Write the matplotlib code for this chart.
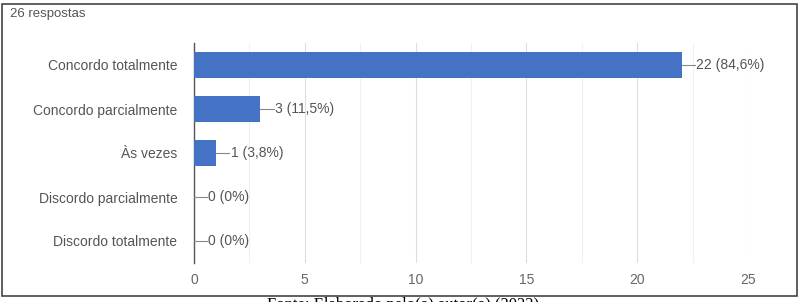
import matplotlib.pyplot as plt
from matplotlib.patches import Rectangle
from matplotlib.ticker import MultipleLocator

categories = ["Concordo totalmente", "Concordo parcialmente", "Às vezes",
              "Discordo parcialmente", "Discordo totalmente"]
counts = [22, 3, 1, 0, 0]
labels = ["22 (84,6%)", "3 (11,5%)", "1 (3,8%)", "0 (0%)", "0 (0%)"]
xticks = [0, 5, 10, 15, 20, 25]

plt.rcParams["font.family"] = ["Liberation Sans", "DejaVu Sans"]

W, H = 799, 302
fig = plt.figure(figsize=(W / 100, H / 100), dpi=100)
ax = fig.add_axes([194 / W, 1 - 263 / H, (748 - 194) / W, (263 - 43) / H])

y = list(range(len(categories)))
ax.barh(y, counts, height=0.6, color="#4472c4", zorder=3)
for yi, c, lab in zip(y, counts, labels):
    ax.plot([c, c + 0.6], [yi, yi], color="#888888", lw=0.8, zorder=3)
    ax.text(c + 0.65, yi, lab, va="center", ha="left", fontsize=10, color="#555555")

ax.set_xlim(0, 25)
ax.set_ylim(len(categories) - 0.5, -0.5)
ax.set_yticks(y)
ax.set_yticklabels(categories, fontsize=10, color="#555555")
ax.set_xticks(xticks)
ax.set_xticklabels([str(t) for t in xticks], fontsize=10, color="#666666")
ax.xaxis.set_minor_locator(MultipleLocator(2.5))
ax.grid(axis="x", which="major", color="#dddddd", lw=0.8, zorder=0)
ax.grid(axis="x", which="minor", color="#f0f0f0", lw=0.8, zorder=0)
ax.tick_params(axis="both", which="both", length=0)
ax.tick_params(axis="y", pad=12)
ax.tick_params(axis="x", pad=7)
for s in ["top", "right", "bottom"]:
    ax.spines[s].set_visible(False)
ax.spines["left"].set_color("#555555")
ax.spines["left"].set_linewidth(1.0)

# frame around the screenshot
fig.patches.append(Rectangle((2 / W, 1 - 296 / H), 795 / W, 292 / H,
                             transform=fig.transFigure, fill=False,
                             edgecolor="#444444", lw=1.2))
fig.text(10 / W, 1 - 14 / H, "26 respostas", fontsize=9.5, color="#555555",
         va="center", ha="left")
fig.text(437 / W, 1 + 8 / H, "ç", fontsize=12, family="Liberation Serif",
         ha="center", va="center")
fig.text(403 / W, 1 - 297 / H, "Fonte: Elaborado pelo(a) autor(a) (2022)",
         fontsize=12, family="Liberation Serif", ha="center", va="top")

fig.savefig("out.png", dpi=100)
